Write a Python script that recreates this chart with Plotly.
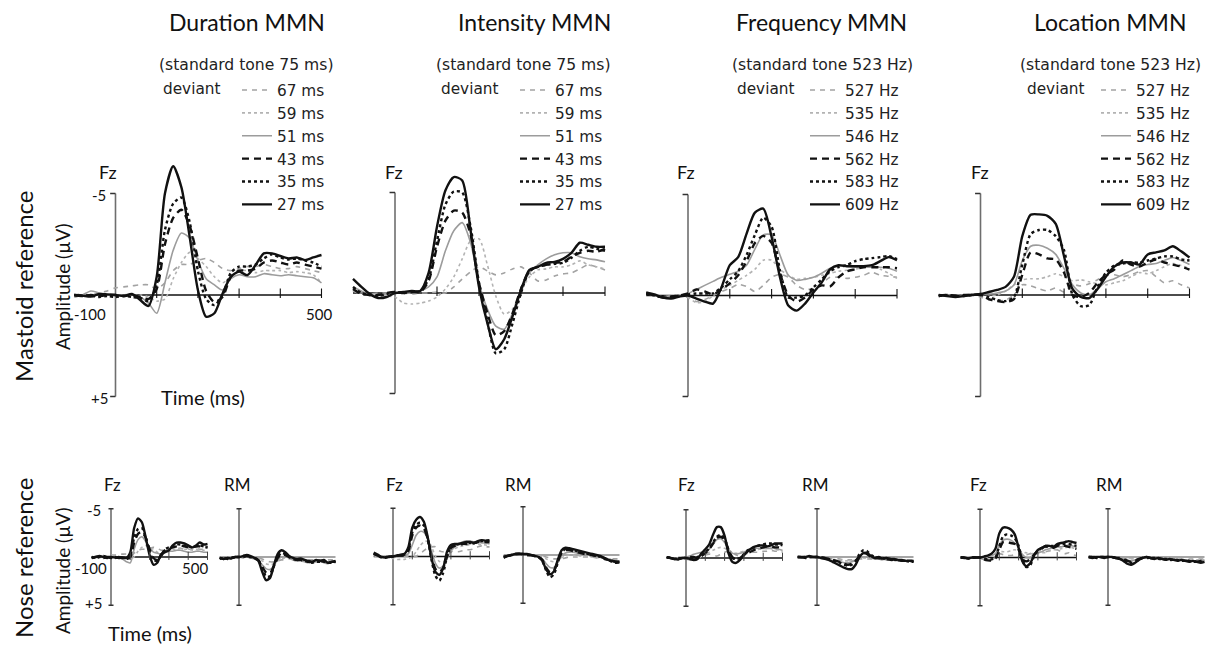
import plotly.graph_objects as go

W, H = 1208, 646
TIME_MS = list(range(-100, 501, 20))

DURATION_LABELS = ["67 ms", "59 ms", "51 ms", "43 ms", "35 ms", "27 ms"]
FREQ_LABELS = ["527 Hz", "535 Hz", "546 Hz", "562 Hz", "583 Hz", "609 Hz"]
COLUMN_TITLES = ["Duration MMN", "Intensity MMN", "Frequency MMN", "Location MMN"]
STANDARD_TONE = ["(standard tone 75 ms)", "(standard tone 75 ms)",
                 "(standard tone 523 Hz)", "(standard tone 523 Hz)"]

# Amplitudes in microvolts (negative plotted upward), series in legend order
DUR_MASTOID_FZ = [
    [0.0,-0.05,0.0,-0.1,-0.2,-0.35,-0.4,-0.45,-0.5,-0.5,-0.3,-0.6,-1.2,-1.5,-1.5,-1.7,-1.8,-1.6,-1.3,-1.2,-1.3,-1.4,-1.4,-1.5,-1.4,-1.3,-1.3,-1.4,-1.3,-1.2,-1.1],
    [0.1,0.0,0.05,0.0,0.0,0.1,0.05,0.05,0.0,0.1,0.3,0.2,-0.8,-1.6,-2.1,-1.8,-1.4,-0.9,-0.6,-0.9,-1.2,-1.2,-1.1,-1.2,-1.2,-1.2,-1.1,-1.15,-1.1,-1.0,-0.6],
    [0.1,0.0,-0.2,-0.1,0.0,0.0,0.0,-0.05,0.1,0.4,0.9,-0.6,-2.2,-3.05,-2.8,-1.7,-0.8,-0.5,-0.25,-0.8,-1.0,-0.9,-0.9,-1.05,-1.0,-0.95,-1.0,-0.95,-0.9,-0.85,-0.6],
    [0.0,0.05,0.0,0.05,0.0,0.0,0.05,0.0,0.1,0.2,-0.3,-2.5,-3.8,-4.2,-3.4,-1.8,-0.2,0.35,0.1,-0.9,-1.2,-1.2,-1.3,-1.6,-1.7,-1.6,-1.5,-1.6,-1.5,-1.4,-1.3],
    [0.0,0.05,0.03,0.1,0.05,0.1,0.05,0.1,0.15,0.3,-0.5,-3.2,-4.5,-4.8,-3.6,-1.2,0.2,0.5,0.0,-1.1,-1.4,-1.4,-1.5,-1.8,-2.0,-1.85,-1.75,-1.8,-1.7,-1.6,-1.4],
    [0.0,0.03,0.08,-0.05,-0.03,0.0,0.05,-0.05,0.25,0.54,-0.9,-5.0,-6.34,-5.3,-2.87,-0.25,1.07,0.9,-0.08,-0.9,-1.15,-0.98,-1.48,-2.05,-2.05,-1.92,-1.8,-1.85,-1.72,-1.85,-1.97],
]
INT_MASTOID_FZ = [
    [-0.1,0.05,0.05,0.0,0.0,0.0,0.0,0.05,0.0,0.0,-0.05,0.0,-0.3,-0.7,-1.05,-1.3,-1.1,-0.9,-1.0,-1.2,-1.3,-1.0,-0.6,-0.65,-0.85,-0.95,-1.0,-1.2,-1.4,-1.3,-1.15],
    [-0.1,0.0,0.1,0.1,0.15,0.2,0.5,0.55,0.5,0.4,0.2,-0.2,-0.8,-1.7,-2.6,-2.7,-1.4,0.15,1.05,0.8,-0.1,-0.8,-1.15,-1.2,-1.3,-1.3,-1.4,-1.6,-1.4,-1.3,-1.2],
    [-0.3,-0.1,0.1,0.1,0.05,0.0,0.0,0.0,-0.1,-0.3,-0.8,-2.1,-3.1,-3.5,-2.5,-0.5,0.8,1.65,1.8,1.0,-0.15,-1.0,-1.4,-1.7,-1.9,-2.0,-2.0,-1.8,-1.7,-1.65,-1.55],
    [-0.2,0.05,0.1,0.1,0.0,-0.05,0.0,-0.05,-0.05,-0.6,-2.3,-3.6,-4.1,-4.0,-2.9,-0.5,1.0,2.1,1.9,1.0,-0.2,-1.1,-1.3,-1.4,-1.5,-1.55,-1.8,-2.0,-2.1,-2.05,-2.2],
    [-0.3,0.0,0.1,0.15,0.05,-0.05,0.0,-0.05,-0.1,-0.7,-2.6,-4.4,-5.05,-5.0,-3.3,-0.5,1.4,3.0,2.8,1.5,0.0,-1.1,-1.3,-1.4,-1.45,-1.5,-1.75,-2.1,-2.3,-2.2,-2.1],
    [-0.7,-0.3,0.05,0.25,0.2,0.0,-0.05,-0.1,-0.1,-1.0,-3.3,-5.1,-5.77,-5.6,-3.1,-0.3,1.5,2.8,2.3,1.15,-0.15,-1.15,-1.3,-1.5,-1.55,-1.7,-2.0,-2.5,-2.4,-2.3,-2.3],
]
FREQ_MASTOID_FZ = [
    [-0.1,0.0,0.05,0.0,0.0,0.1,0.3,0.2,0.0,-0.2,-0.35,-0.55,-0.45,-0.2,-0.5,-0.9,-1.05,-0.9,-0.5,-0.3,-0.35,-0.6,-0.9,-0.9,-0.85,-0.9,-1.0,-1.15,-1.0,-0.95,-0.9],
    [-0.1,0.0,0.05,0.05,0.0,0.1,0.35,0.3,0.0,-0.3,-0.5,-0.75,-1.0,-1.3,-1.75,-1.75,-1.3,-1.0,-0.8,-0.85,-0.9,-1.0,-1.1,-1.2,-1.25,-1.3,-1.4,-1.45,-1.3,-1.1,-0.85],
    [-0.1,0.0,0.1,0.05,0.0,-0.1,-0.3,-0.5,-0.7,-0.9,-1.05,-1.2,-1.5,-2.3,-3.0,-3.0,-2.0,-1.0,-0.75,-0.8,-0.9,-1.1,-1.35,-1.45,-1.45,-1.4,-1.4,-1.4,-1.4,-1.35,-1.2],
    [-0.1,0.0,0.1,0.05,0.0,-0.1,-0.3,-0.2,-0.05,-0.3,-0.6,-1.0,-1.7,-2.6,-2.95,-2.6,-1.1,0.0,0.3,0.1,-0.3,-0.5,-0.45,-0.9,-1.2,-1.3,-1.4,-1.4,-1.4,-1.4,-1.35],
    [-0.1,0.0,0.1,0.1,0.0,-0.05,-0.1,-0.1,-0.1,-0.4,-0.8,-1.2,-2.0,-3.0,-3.85,-3.4,-1.25,0.1,0.1,0.0,-0.4,-0.8,-1.2,-1.4,-1.5,-1.7,-1.8,-1.85,-1.9,-1.95,-1.8],
    [-0.15,-0.05,0.1,0.15,0.05,0.0,0.15,0.3,0.4,-0.4,-1.5,-1.9,-3.05,-4.1,-4.3,-2.9,-0.9,0.5,0.75,0.4,-0.15,-0.65,-1.3,-1.5,-1.45,-1.45,-1.45,-1.5,-1.7,-1.9,-1.75],
]
LOC_MASTOID_FZ = [
    [0.0,0.0,0.05,0.0,0.0,0.1,0.25,0.3,0.25,0.0,-0.5,-0.45,-0.3,-0.2,-0.35,-0.15,-0.5,-0.45,-0.55,-0.75,-0.95,-1.0,-0.9,-1.0,-1.15,-1.2,-0.9,-0.6,-0.7,-0.5,-0.35],
    [0.0,0.05,0.0,0.0,0.0,0.0,0.05,0.0,-0.2,-0.5,-0.75,-0.8,-0.8,-0.9,-1.05,-0.9,-0.7,-0.75,-0.65,-0.55,-0.5,-0.6,-0.7,-0.9,-1.1,-1.05,-1.2,-1.4,-1.55,-1.45,-1.3],
    [0.0,0.0,0.05,0.0,-0.05,-0.05,-0.05,-0.1,-0.2,-0.5,-1.7,-2.4,-2.45,-2.3,-2.0,-1.3,-0.5,-0.1,0.0,-0.3,-0.65,-0.8,-1.0,-1.2,-1.4,-1.5,-1.55,-1.7,-1.85,-1.7,-1.5],
    [0.05,0.0,0.05,0.0,0.0,0.0,0.2,0.3,0.35,0.2,-1.0,-2.1,-2.0,-1.8,-1.75,-1.1,0.0,0.1,-0.1,-0.6,-1.0,-1.25,-1.7,-1.5,-1.4,-1.6,-1.75,-1.6,-1.5,-1.4,-1.25],
    [0.05,0.0,0.05,0.05,0.0,0.0,0.1,0.25,0.3,0.1,-1.5,-3.0,-3.2,-3.2,-2.9,-2.2,0.0,0.55,0.5,-0.4,-1.1,-1.45,-1.55,-1.6,-1.6,-1.7,-1.8,-1.9,-1.9,-1.75,-1.7],
    [0.0,0.05,0.1,0.05,0.0,-0.05,-0.15,-0.25,-0.4,-0.9,-2.9,-3.95,-3.97,-3.9,-3.5,-1.9,-0.3,0.1,0.15,-0.3,-0.9,-1.4,-1.6,-1.6,-1.5,-2.0,-2.1,-2.2,-2.4,-2.15,-1.85],
]

DUR_NOSE_FZ = [
    [0.0,0.0,0.1,0.0,-0.1,-0.2,-0.2,-0.3,-0.3,-0.3,-0.2,-0.4,-0.7,-0.8,-0.8,-0.9,-1.0,-0.9,-0.7,-0.7,-0.8,-0.9,-0.9,-0.9,-0.8,-0.8,-0.8,-0.9,-0.8,-0.8,-0.7],
    [0.0,0.1,0.0,0.0,0.0,0.1,0.0,0.0,0.1,0.1,0.2,0.0,-0.6,-1.0,-1.2,-1.0,-0.8,-0.5,-0.4,-0.6,-0.8,-0.8,-0.8,-0.9,-0.8,-0.8,-0.7,-0.8,-0.8,-0.7,-0.6],
    [0.0,0.0,-0.1,0.0,0.0,0.0,0.0,0.1,0.2,0.5,0.6,-0.8,-1.8,-2.1,-1.6,-1.0,-0.5,-0.4,-0.3,-0.5,-0.6,-0.6,-0.7,-0.7,-0.6,-0.5,-0.5,-0.6,-0.6,-0.5,-0.5],
    [0.1,0.0,0.0,0.1,0.0,0.0,0.1,0.0,0.1,0.2,0.0,-1.5,-2.4,-2.6,-2.0,-0.8,0.1,0.3,-0.1,-0.7,-0.9,-1.0,-1.1,-1.2,-1.1,-1.0,-1.0,-1.1,-1.1,-1.0,-1.0],
    [0.0,0.1,0.0,-0.1,0.0,0.1,0.0,0.1,0.1,0.2,-0.2,-2.0,-2.9,-3.0,-2.0,-0.5,0.3,0.4,-0.2,-0.8,-1.0,-1.1,-1.3,-1.3,-1.2,-1.1,-1.0,-1.1,-1.2,-1.1,-1.0],
    [0.1,0.0,-0.1,0.0,0.1,0.0,0.05,0.1,0.05,0.1,-0.5,-3.0,-4.0,-3.6,-2.0,-0.2,0.8,0.6,-0.3,-0.5,-0.7,-1.2,-1.5,-1.5,-1.4,-1.2,-1.0,-1.2,-1.5,-1.3,-1.35],
]
DUR_NOSE_RM = [
    [0.0,0.0,0.1,0.0,0.0,0.0,0.1,0.1,0.1,0.1,0.1,0.2,0.4,0.5,0.5,0.4,0.3,0.3,0.2,0.2,0.3,0.3,0.3,0.3,0.3,0.3,0.3,0.4,0.3,0.3,0.3],
    [0.0,0.1,0.1,0.0,0.0,0.0,0.0,0.0,0.1,0.1,0.2,0.4,0.7,0.8,0.7,0.4,0.2,0.1,0.1,0.2,0.3,0.3,0.4,0.4,0.4,0.3,0.4,0.4,0.5,0.4,0.4],
    [0.1,0.1,0.0,0.1,0.0,0.0,0.0,0.0,0.1,0.2,0.4,0.8,1.2,1.3,0.9,0.3,0.0,0.0,0.1,0.3,0.4,0.4,0.5,0.6,0.5,0.5,0.4,0.6,0.7,0.5,0.4],
    [0.1,0.2,0.1,0.1,0.0,0.0,0.0,-0.1,0.0,0.1,0.3,1.0,1.6,1.7,1.0,0.1,-0.3,-0.2,0.0,0.2,0.3,0.3,0.4,0.5,0.5,0.4,0.4,0.5,0.5,0.5,0.4],
    [0.2,0.1,0.2,0.1,0.0,0.0,-0.1,-0.1,0.0,0.1,0.3,1.2,2.0,2.0,1.0,0.0,-0.4,-0.3,0.0,0.2,0.3,0.3,0.4,0.5,0.6,0.5,0.5,0.4,0.6,0.6,0.5],
    [0.1,0.2,0.1,0.15,0.0,0.0,-0.1,-0.2,-0.1,0.1,0.4,1.5,2.4,2.2,0.9,-0.3,-0.7,-0.5,-0.1,0.1,0.2,0.15,0.3,0.4,0.5,0.3,0.4,0.3,0.6,0.5,0.5],
]
INT_NOSE_FZ = [
    [-0.1,0.0,0.0,0.0,0.0,0.0,0.0,0.0,0.0,0.0,0.0,0.0,-0.3,-0.6,-0.9,-1.0,-1.0,-0.6,-0.5,-0.7,-0.8,-0.6,-0.5,-0.6,-0.7,-0.7,-0.8,-1.0,-1.1,-1.0,-1.0],
    [-0.1,0.0,0.1,0.1,0.1,0.2,0.3,0.3,0.3,0.2,0.0,-0.5,-1.1,-1.5,-1.6,-1.0,0.0,0.5,0.6,0.2,-0.4,-0.8,-1.0,-1.1,-1.2,-1.2,-1.3,-1.3,-1.2,-1.2,-1.1],
    [-0.2,-0.1,0.0,0.1,0.0,0.0,0.0,-0.1,-0.1,-0.3,-1.2,-2.2,-2.6,-2.5,-1.8,-0.5,0.7,1.2,1.0,0.2,-0.6,-1.0,-1.3,-1.5,-1.6,-1.6,-1.5,-1.5,-1.4,-1.4,-1.3],
    [-0.3,-0.1,0.0,0.1,0.0,0.0,-0.1,-0.1,-0.2,-0.6,-2.2,-3.0,-3.2,-2.9,-1.8,0.0,1.3,1.6,1.2,0.0,-0.9,-1.1,-1.2,-1.3,-1.3,-1.3,-1.4,-1.5,-1.5,-1.5,-1.5],
    [-0.3,-0.1,0.1,0.1,0.0,0.0,-0.1,-0.1,-0.2,-0.8,-2.5,-3.3,-3.5,-3.2,-1.8,0.4,2.0,2.5,1.7,0.0,-1.0,-1.2,-1.3,-1.3,-1.4,-1.4,-1.4,-1.5,-1.6,-1.6,-1.6],
    [-0.4,-0.2,0.05,0.1,0.05,0.0,-0.1,-0.2,-0.3,-1.0,-3.0,-3.8,-4.1,-3.6,-2.0,0.2,1.6,1.9,1.2,-0.5,-1.2,-1.3,-1.3,-1.4,-1.5,-1.5,-1.4,-1.6,-1.7,-1.65,-1.7],
]
INT_NOSE_RM = [
    [0.1,0.0,0.0,0.0,0.0,0.0,0.0,0.0,0.0,0.1,0.1,0.2,0.3,0.4,0.4,0.4,0.3,0.2,0.2,0.2,0.2,0.2,0.2,0.2,0.3,0.3,0.3,0.4,0.4,0.4,0.4],
    [0.1,0.0,0.0,0.0,0.0,0.0,0.0,0.1,0.1,0.1,0.2,0.4,0.6,0.7,0.6,0.3,0.1,0.0,0.0,0.1,0.1,0.1,0.2,0.2,0.2,0.3,0.3,0.4,0.5,0.5,0.5],
    [0.1,0.0,0.0,-0.1,-0.1,0.0,0.0,0.0,0.1,0.2,0.4,0.9,1.3,1.3,0.8,0.1,-0.2,-0.3,-0.3,-0.2,-0.1,0.0,0.0,0.1,0.1,0.2,0.3,0.4,0.5,0.6,0.6],
    [0.2,0.1,0.0,-0.1,-0.1,-0.1,0.0,0.0,0.1,0.2,0.5,1.3,1.8,1.6,0.7,-0.2,-0.5,-0.5,-0.4,-0.3,-0.2,-0.1,0.0,0.0,0.1,0.2,0.3,0.5,0.6,0.7,0.7],
    [0.2,0.1,0.0,-0.1,-0.1,-0.1,0.0,0.0,0.1,0.2,0.6,1.6,2.3,2.0,0.8,-0.3,-0.6,-0.6,-0.5,-0.4,-0.3,-0.2,-0.1,0.0,0.1,0.2,0.4,0.5,0.7,0.8,0.8],
    [0.3,0.1,0.0,-0.1,-0.15,-0.1,-0.1,0.0,0.1,0.2,0.6,1.5,2.0,1.7,0.5,-0.5,-0.75,-0.7,-0.6,-0.5,-0.4,-0.3,-0.2,-0.1,0.0,0.1,0.3,0.5,0.6,0.7,0.8],
]
FREQ_NOSE_FZ = [
    [-0.1,0.0,0.0,0.0,0.0,0.1,0.2,0.1,0.0,-0.1,-0.3,-0.4,-0.3,-0.2,-0.4,-0.6,-0.7,-0.6,-0.3,-0.2,-0.3,-0.5,-0.6,-0.6,-0.6,-0.7,-0.7,-0.8,-0.7,-0.7,-0.6],
    [-0.1,0.0,0.0,0.0,0.0,0.1,0.2,0.1,0.0,-0.2,-0.4,-0.6,-0.8,-1.0,-1.1,-1.0,-0.8,-0.6,-0.5,-0.6,-0.7,-0.8,-0.8,-0.9,-0.9,-1.0,-1.0,-1.0,-0.9,-0.8,-0.7],
    [-0.1,0.0,0.1,0.0,0.0,-0.1,-0.2,-0.4,-0.5,-0.6,-0.7,-0.9,-1.4,-1.9,-2.0,-1.6,-0.9,-0.5,-0.4,-0.5,-0.6,-0.8,-0.9,-1.0,-1.0,-1.0,-1.0,-1.0,-1.0,-0.9,-0.8],
    [-0.1,0.0,0.1,0.0,0.0,0.0,-0.1,-0.1,0.0,-0.2,-0.5,-0.9,-1.5,-2.1,-2.2,-1.9,-0.9,-0.1,0.2,0.0,-0.3,-0.5,-0.7,-0.9,-1.0,-1.1,-1.2,-1.2,-1.1,-1.1,-1.0],
    [-0.1,0.0,0.1,0.1,0.0,0.0,0.0,0.0,-0.1,-0.3,-0.6,-1.0,-1.6,-2.2,-2.4,-2.0,-0.8,0.0,0.1,0.0,-0.4,-0.8,-1.0,-1.2,-1.3,-1.4,-1.5,-1.5,-1.4,-1.4,-1.3],
    [-0.1,0.0,0.1,0.15,0.0,0.0,0.1,0.2,0.1,-0.5,-0.9,-1.4,-2.4,-3.2,-3.2,-2.3,-0.5,0.4,0.5,0.2,-0.3,-0.7,-1.0,-1.2,-1.3,-1.3,-1.2,-1.3,-1.5,-1.5,-1.5],
]
FREQ_NOSE_RM = [
    [0.0,0.0,0.0,0.0,0.0,0.0,0.0,0.1,0.1,0.2,0.2,0.2,0.3,0.3,0.3,0.3,0.2,0.2,0.2,0.2,0.2,0.2,0.3,0.3,0.3,0.3,0.3,0.3,0.3,0.3,0.3],
    [0.0,0.0,0.0,0.0,0.0,0.0,0.0,0.1,0.2,0.2,0.3,0.3,0.4,0.4,0.4,0.3,0.2,0.1,0.1,0.2,0.2,0.2,0.3,0.3,0.3,0.3,0.3,0.3,0.4,0.4,0.3],
    [0.0,0.0,0.0,0.0,0.0,0.1,0.1,0.2,0.3,0.4,0.5,0.5,0.6,0.6,0.5,0.3,0.1,0.0,0.0,0.1,0.2,0.2,0.2,0.3,0.3,0.3,0.4,0.4,0.4,0.4,0.4],
    [0.0,0.0,0.0,0.0,0.0,0.0,0.1,0.1,0.2,0.3,0.4,0.5,0.7,0.8,0.7,0.4,-0.1,-0.4,-0.3,0.0,0.1,0.1,0.2,0.2,0.3,0.3,0.3,0.4,0.4,0.4,0.4],
    [0.0,0.0,0.1,0.0,0.0,0.0,0.0,0.1,0.2,0.3,0.5,0.6,0.8,0.9,0.8,0.4,-0.3,-0.7,-0.6,-0.2,0.0,0.1,0.1,0.2,0.2,0.3,0.3,0.4,0.4,0.5,0.5],
    [0.0,0.05,0.0,-0.1,0.0,0.0,0.1,0.2,0.3,0.5,0.7,0.9,1.1,1.25,1.25,0.8,0.0,-0.4,-0.4,-0.1,0.1,0.0,0.15,0.1,0.2,0.2,0.3,0.3,0.4,0.4,0.5],
]
LOC_NOSE_FZ = [
    [0.0,0.0,0.0,0.0,0.0,0.1,0.2,0.2,0.2,0.0,-0.4,-0.3,-0.2,-0.2,-0.3,-0.1,-0.4,-0.3,-0.4,-0.5,-0.7,-0.7,-0.6,-0.7,-0.8,-0.8,-0.6,-0.4,-0.5,-0.3,-0.2],
    [0.0,0.0,0.0,0.0,0.0,0.0,0.0,0.0,-0.2,-0.4,-0.6,-0.6,-0.6,-0.7,-0.8,-0.7,-0.5,-0.5,-0.4,-0.4,-0.4,-0.5,-0.5,-0.7,-0.8,-0.8,-0.9,-1.0,-1.1,-1.0,-0.9],
    [0.0,0.0,0.0,0.0,0.0,0.0,0.0,-0.1,-0.2,-0.4,-1.3,-1.8,-1.9,-1.8,-1.5,-1.0,-0.3,0.0,0.0,-0.3,-0.5,-0.6,-0.8,-0.9,-1.0,-1.1,-1.1,-1.2,-1.3,-1.2,-1.1],
    [0.0,0.0,0.1,0.0,0.0,0.0,0.2,0.3,0.3,0.1,-0.8,-1.6,-1.6,-1.5,-1.4,-0.8,0.2,0.4,0.2,-0.3,-0.7,-0.9,-1.2,-1.1,-1.0,-1.2,-1.3,-1.2,-1.1,-1.0,-0.9],
    [0.0,0.0,0.1,0.0,0.0,0.0,0.1,0.2,0.2,0.0,-1.2,-2.2,-2.4,-2.3,-2.0,-1.2,0.3,1.0,0.8,-0.1,-0.7,-1.0,-1.1,-1.2,-1.2,-1.3,-1.4,-1.4,-1.4,-1.3,-1.2],
    [0.0,0.05,0.1,0.0,0.0,0.0,-0.1,-0.2,-0.4,-0.9,-2.5,-3.1,-3.1,-2.9,-2.4,-1.0,0.4,0.9,0.6,-0.2,-0.8,-1.0,-1.2,-1.2,-1.1,-1.4,-1.5,-1.6,-1.7,-1.6,-1.5],
]
LOC_NOSE_RM = [
    [0.0,0.0,0.0,0.0,0.0,0.0,0.0,0.0,0.0,0.1,0.1,0.1,0.1,0.1,0.1,0.1,0.1,0.1,0.1,0.1,0.1,0.2,0.2,0.2,0.2,0.2,0.2,0.2,0.2,0.2,0.2],
    [0.0,0.0,0.0,0.0,0.0,0.0,0.0,0.0,0.1,0.1,0.2,0.2,0.2,0.1,0.1,0.1,0.1,0.1,0.1,0.2,0.2,0.2,0.2,0.2,0.3,0.3,0.3,0.3,0.3,0.3,0.3],
    [0.0,0.0,0.0,0.0,0.0,0.0,0.0,0.0,0.1,0.2,0.3,0.4,0.3,0.2,0.1,0.1,0.1,0.1,0.2,0.2,0.2,0.2,0.3,0.3,0.3,0.3,0.4,0.4,0.4,0.4,0.4],
    [0.0,0.0,0.0,0.0,0.0,0.0,0.0,0.1,0.1,0.2,0.4,0.5,0.4,0.2,0.1,0.1,0.1,0.2,0.2,0.2,0.3,0.3,0.3,0.3,0.4,0.4,0.4,0.4,0.5,0.4,0.4],
    [0.0,0.0,0.1,0.0,0.0,0.0,0.0,0.1,0.2,0.3,0.5,0.6,0.5,0.3,0.1,0.0,0.1,0.1,0.2,0.2,0.2,0.3,0.3,0.3,0.4,0.4,0.4,0.5,0.5,0.5,0.5],
    [0.0,0.1,0.0,0.0,0.1,0.0,0.0,0.1,0.2,0.4,0.7,0.8,0.6,0.3,0.1,0.0,0.1,0.2,0.1,0.2,0.3,0.2,0.3,0.4,0.3,0.4,0.5,0.4,0.5,0.6,0.5],
]

LINE_STYLES = [
    dict(color="#a3a3a3", width=1.6, dash="5px,5px"),
    dict(color="#b3b3b3", width=1.6, dash="3px,3px"),
    dict(color="#9c9c9c", width=1.6, dash="solid"),
    dict(color="#111111", width=2.4, dash="7px,5px"),
    dict(color="#111111", width=2.4, dash="3px,3px"),
    dict(color="#111111", width=2.4, dash="solid"),
]

GILL = "Lato, 'Gill Sans', sans-serif"
SANS = "'DejaVu Sans', Arial, sans-serif"

fig = go.Figure()
axes = {}
shapes = []
annotations = []


def add_panel(k, series, labels, x0, y0, sx, sy, legend_name, top_row, is_rm):
    xa = "x" if k == 1 else f"x{k}"
    ya = "y" if k == 1 else f"y{k}"
    xr = [-112, 512]
    yr = [5.7, -7.4]
    axes["xaxis" if k == 1 else f"xaxis{k}"] = dict(
        domain=[(x0 + xr[0] * sx) / W, (x0 + xr[1] * sx) / W],
        range=xr, anchor=ya, visible=False, fixedrange=True)
    axes["yaxis" if k == 1 else f"yaxis{k}"] = dict(
        domain=[1 - (y0 + yr[0] * sy) / H, 1 - (y0 + yr[1] * sy) / H],
        range=yr, anchor=xa, visible=False, fixedrange=True)
    for vals, lab, st in zip(series, labels, LINE_STYLES):
        assert len(vals) == len(TIME_MS)
        fig.add_trace(go.Scatter(
            x=TIME_MS, y=vals, mode="lines", name=lab,
            line=dict(color=st["color"], width=st["width"], dash=st["dash"],
                      shape="spline", smoothing=0.7),
            xaxis=xa, yaxis=ya, hoverinfo="skip",
            showlegend=legend_name is not None,
            legend=legend_name if legend_name else "legend"))
    hcol = "#888888" if is_rm else "#111111"
    shapes.append(dict(type="line", xref=xa, yref=ya, x0=-100, x1=500, y0=0, y1=0,
                       line=dict(color=hcol, width=1.3 if not is_rm else 1.6), layer="below"))
    shapes.append(dict(type="line", xref=xa, yref=ya, x0=0, x1=0, y0=-5, y1=5,
                       line=dict(color="#6e6e6e", width=1.6), layer="below"))
    if top_row:
        for yy in (-5, 5):
            shapes.append(dict(type="line", xref=xa, yref=ya, x0=-13, x1=0, y0=yy, y1=yy,
                               line=dict(color="#333333", width=1.3)))
        for t in (100, 200, 300, 400, 500):
            shapes.append(dict(type="line", xref=xa, yref=ya, x0=t, x1=t, y0=-0.32, y1=0.15,
                               line=dict(color="#111111", width=1.1)))
    else:
        for yy in (-5, 5):
            shapes.append(dict(type="line", xref=xa, yref=ya, x0=-13, x1=13, y0=yy, y1=yy,
                               line=dict(color="#333333", width=1.3)))
        if not is_rm:
            for t in (100, 200, 300, 400, 500):
                shapes.append(dict(type="line", xref=xa, yref=ya, x0=t, x1=t, y0=-0.55, y1=0.3,
                                   line=dict(color="#444444", width=1.0)))


TOP_GEOM = [(115.5, 295, 0.412, 20.3), (395, 293, 0.42, 20.1),
            (688, 295.5, 0.418, 20.2), (980.5, 295, 0.418, 20.3)]
FZ_GEOM = [(111, 557), (393, 556.5), (686, 558), (980, 557.5)]
RM_GEOM = [(239, 557), (523, 555), (817, 557), (1108, 557)]
LEGEND_NAMES = ["legend", "legend2", "legend3", "legend4"]

top_data = [DUR_MASTOID_FZ, INT_MASTOID_FZ, FREQ_MASTOID_FZ, LOC_MASTOID_FZ]
fz_data = [DUR_NOSE_FZ, INT_NOSE_FZ, FREQ_NOSE_FZ, LOC_NOSE_FZ]
rm_data = [DUR_NOSE_RM, INT_NOSE_RM, FREQ_NOSE_RM, LOC_NOSE_RM]
col_labels = [DURATION_LABELS, DURATION_LABELS, FREQ_LABELS, FREQ_LABELS]

k = 1
for c in range(4):
    x0, y0, sx, sy = TOP_GEOM[c]
    add_panel(k, top_data[c], col_labels[c], x0, y0, sx, sy, LEGEND_NAMES[c], True, False)
    k += 1
for c in range(4):
    x0, y0 = FZ_GEOM[c]
    add_panel(k, fz_data[c], col_labels[c], x0, y0, 0.193, 9.65, None, False, False)
    k += 1
    x0, y0 = RM_GEOM[c]
    add_panel(k, rm_data[c], col_labels[c], x0, y0, 0.193, 9.65, None, False, True)
    k += 1


def ann(text, x, y, size, family, xanchor="center", yanchor="middle", angle=0, color="#111111"):
    annotations.append(dict(text=text, x=x / W, y=1 - y / H, xref="paper", yref="paper",
                            xanchor=xanchor, yanchor=yanchor, showarrow=False, textangle=angle,
                            font=dict(family=family, size=size, color=color)))


TITLE_X = [247, 534, 821, 1110]
STD_X = [246, 523, 822, 1110]
DEV_X = [192, 470, 766, 1056]
FZ_TOP_X = [108, 394, 686, 980]
for c in range(4):
    ann(COLUMN_TITLES[c], TITLE_X[c], 22, 23, GILL)
    ann(STANDARD_TONE[c], STD_X[c], 65, 15.6, SANS, color="#222222")
    ann("deviant", DEV_X[c], 89, 15.3, SANS, color="#222222")
    ann("Fz", FZ_TOP_X[c], 172, 18, GILL)

for xx in (112, 394, 686, 979):
    ann("Fz", xx, 484, 17, GILL)
for xx in (237, 518, 815, 1109):
    ann("RM", xx, 484, 17, GILL)

ann("-5", 108, 195, 15, GILL, xanchor="right")
ann("+5", 110, 398, 15, GILL, xanchor="right")
ann("-100", 90, 314, 15, GILL)
ann("500", 319, 314, 15, GILL)
ann("Time (ms)", 203, 397, 20, GILL)
ann("-5", 103, 510, 15, GILL, xanchor="right")
ann("+5", 104, 603, 15, GILL, xanchor="right")
ann("-100", 91, 568, 15, GILL)
ann("500", 195, 568, 15, GILL)
ann("Time (ms)", 150, 633, 20, GILL)

ann("Mastoid reference", 23, 287, 24, GILL, angle=-90)
ann("Amplitude (µV)", 62, 287, 19, GILL, angle=-90)
ann("Nose reference", 23, 558, 24, GILL, angle=-90)
ann("Amplitude (µV)", 62, 571, 19, GILL, angle=-90)

LEGEND_X = [237, 515, 805, 1096]
legends = {}
for c in range(4):
    legends[LEGEND_NAMES[c]] = dict(
        x=LEGEND_X[c] / W, y=1 - 73.5 / H, xanchor="left", yanchor="top",
        bgcolor="rgba(0,0,0,0)", borderwidth=0, tracegroupgap=0,
        font=dict(family=SANS, size=15.3, color="#222222"),
        itemclick=False, itemdoubleclick=False)

fig.update_layout(
    width=W, height=H, margin=dict(l=0, r=0, t=0, b=0),
    paper_bgcolor="white", plot_bgcolor="rgba(0,0,0,0)",
    showlegend=True, shapes=shapes, annotations=annotations,
    **axes, **legends)

fig.write_html("out.html", config={"displayModeBar": False})
